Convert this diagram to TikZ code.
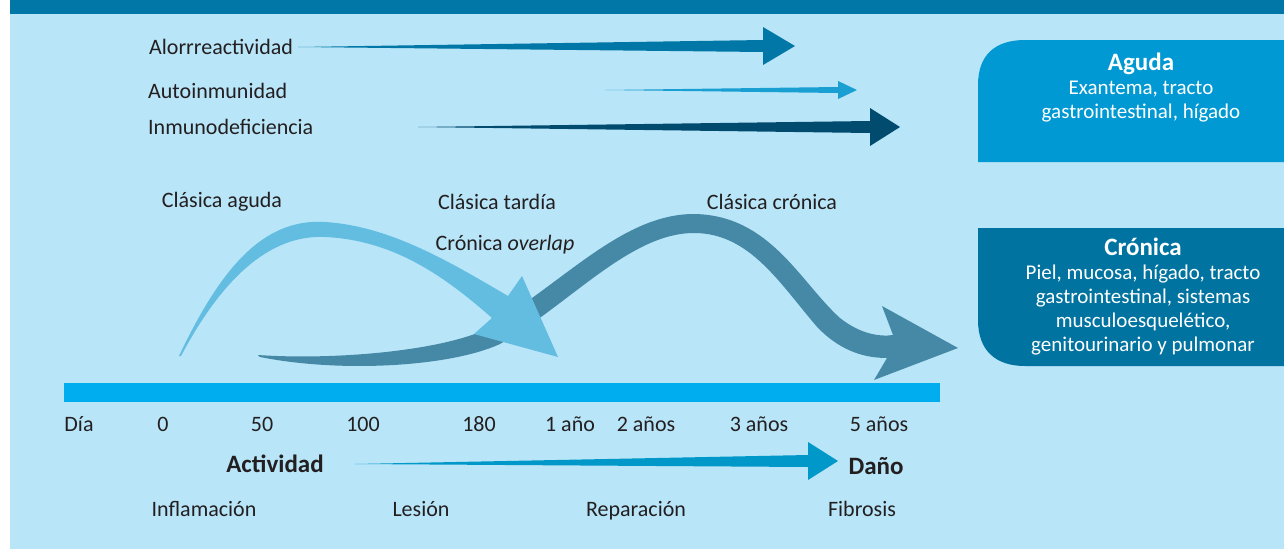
\documentclass[tikz,border=0pt]{standalone}
\usepackage{fontspec}
\setmainfont{Carlito}
\usetikzlibrary{calc}

\definecolor{ink}{HTML}{231F20}
\definecolor{bghead}{HTML}{0077A6}
\definecolor{bglight}{HTML}{B8E5F8}
\definecolor{aloblue}{HTML}{0077A6}
\definecolor{autoblue}{HTML}{1A9FD3}
\definecolor{inmblue}{HTML}{004B6E}
\definecolor{agudabox}{HTML}{0099D3}
\definecolor{cronbox}{HTML}{0073A0}
\definecolor{barblue}{HTML}{00AEEF}
\definecolor{actblue}{HTML}{0098C8}
\definecolor{lightcurve}{HTML}{62BDE1}
\definecolor{darkcurve}{HTML}{4589A6}

% tapered straight arrow: start, tip, half shaft, head length, half head
\newcommand{\taper}[5]{%
  (#1) -- ($(#2)+(-#4,-#3)$) -- ($(#2)+(-#4,-#5)$) -- (#2)
  -- ($(#2)+(-#4,#5)$) -- ($(#2)+(-#4,#3)$) -- cycle}

\begin{document}
\begin{tikzpicture}[x=1pt,y=-1pt,
  lbl/.style={inner sep=0pt,text=ink,font=\fontsize{22}{24}\selectfont},
  bold/.style={lbl,font=\fontsize{25}{26}\selectfont\bfseries},
  boxtxt/.style={inner sep=0pt,text=white,align=center,font=\fontsize{21}{24}\selectfont}]
  \useasboundingbox (0,0) rectangle (1284,549);
  \fill[white] (0,0) rectangle (1284,549);
  \fill[bglight] (10,14) rectangle (1284,549);
  \fill[bghead] (10,0) rectangle (1284,14);

  % straight arrows
  \node[lbl,anchor=west] (alo) at (149,47) {Alorrreactividad};
  \node[lbl,anchor=west] (auto) at (148,91) {Autoinmunidad};
  \node[lbl,anchor=west] (inm) at (148,127) {Inmunodeficiencia};
  \coordinate (alo-a) at (298,47);
  \coordinate (alo-b) at (795,46);
  \coordinate (auto-a) at (605,90);
  \coordinate (auto-b) at (857,90);
  \coordinate (inm-a) at (418,127);
  \coordinate (inm-b) at (900,127);
  \fill[aloblue] \taper{alo-a}{alo-b}{6}{32}{19};
  \fill[autoblue] \taper{auto-a}{auto-b}{3}{19}{9};
  \fill[inmblue] \taper{inm-a}{inm-b}{6}{30}{19};

  % boxes
  \fill[agudabox] (978,162) -- (978,85) .. controls (978,55) and (995,40) .. (1025,40)
    -- (1284,40) -- (1284,162) -- cycle;
  \fill[cronbox] (978,228) -- (1284,228) -- (1284,366) -- (1025,366)
    .. controls (995,366) and (978,350) .. (978,320) -- cycle;
  \node[boxtxt] (aguda) at (1141,88) {\textbf{\fontsize{25}{24}\selectfont Aguda}\\Exantema, tracto\\gastrointestinal, hígado};
  \node[boxtxt] (cron) at (1143,297) {\textbf{\fontsize{25}{24}\selectfont Crónica}\\Piel, mucosa, hígado, tracto\\gastrointestinal, sistemas\\musculoesquelético,\\genitourinario y pulmonar};

  % curved arrows
  \node[lbl] (cagu) at (222,202) {Clásica aguda};
  \node[lbl] (ctar) at (497,202) {Clásica tardía};
  \node[lbl] (cover) at (505,245) {Crónica \textit{overlap}};
  \node[lbl] (ccro) at (772,202) {Clásica crónica};
  \fill[darkcurve] (258,355) .. controls (330,360) and (430,352) .. (480,332)
    .. controls (560,287) and (620,214) .. (694,214)
    .. controls (770,215) and (800,282) .. (840,318)
    .. controls (860,334) and (880,337) .. (893,335)
    -- (882,306) -- (958,348) -- (874,380) -- (887,358)
    .. controls (860,358) and (838,348) .. (818,328)
    .. controls (780,284) and (750,233) .. (694,233)
    .. controls (630,233) and (570,304) .. (500,344)
    .. controls (450,367) and (340,373) .. (260,357) -- cycle;
  \fill[lightcurve] (179,356) .. controls (220,270) and (262,218) .. (325,222)
    .. controls (390,226) and (450,262) .. (508,296)
    -- (522,276) -- (558,357) -- (474,334) -- (492,318)
    .. controls (440,272) and (390,240) .. (325,237)
    .. controls (262,234) and (215,292) .. (181,356) -- cycle;

  % time line
  \fill[barblue] (64,383) rectangle (940,402);
  \foreach \x/\t [count=\i] in {79/Día,163/0,262/50,363/100,479/180,570/1 año,646/2 años,759/3 años,879/5 años}
    \node[lbl,anchor=base] (t\i) at (\x,431) {\t};

  \node[bold] (act) at (275,464) {Actividad};
  \node[bold] (dano) at (876,466) {Daño};
  \coordinate (act-b) at (838,461);
  \fill[actblue] \taper{355,464}{act-b}{6}{30}{19};

  \node[lbl,anchor=base] (infl) at (204,516) {Inflamación};
  \node[lbl,anchor=base] (les) at (421,516) {Lesión};
  \node[lbl,anchor=base] (rep) at (636,516) {Reparación};
  \node[lbl,anchor=base] (fib) at (862,516) {Fibrosis};
\end{tikzpicture}
\end{document}
